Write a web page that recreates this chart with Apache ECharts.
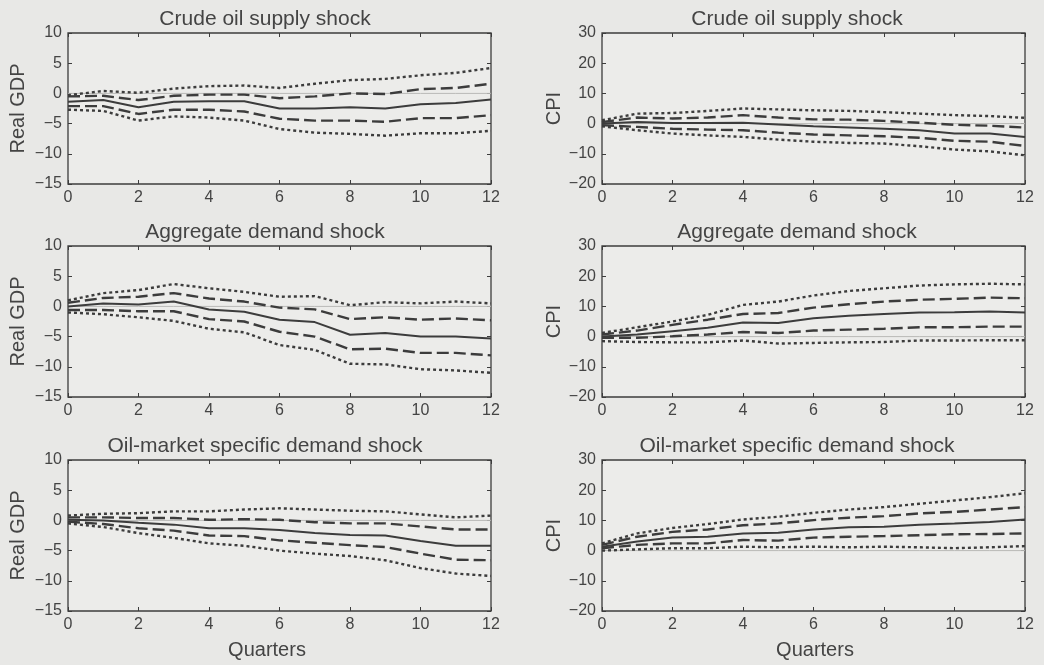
<!DOCTYPE html>
<html lang="en">
<head>
  <meta charset="UTF-8" />
  <title>Impulse responses</title>
  <script src="https://cdn.jsdelivr.net/npm/echarts@6/dist/echarts.min.js"></script>
  <style>
    body {
      margin: 0;
      background: #e8e8e6;
    }
    #chart {
      width: 1044px;
      height: 665px;
    }
  </style>
</head>
<body>
  <div id="chart"></div>

  <script>
    // quarters after the shock
    const quarters = [0, 1, 2, 3, 4, 5, 6, 7, 8, 9, 10, 11, 12];
    const panelTitles = ['Crude oil supply shock', 'Crude oil supply shock',
      'Aggregate demand shock', 'Aggregate demand shock',
      'Oil-market specific demand shock', 'Oil-market specific demand shock'];
    const gdpTicks = [-15, -10, -5, 0, 5, 10];
    const cpiTicks = [-20, -10, 0, 10, 20, 30];

    // crude oil supply shock -> real GDP
    const supplyGdpMid = [-1.4, -1.1, -2.3, -1.4, -1.3, -1.3, -2.5, -2.5, -2.3, -2.5, -1.8, -1.6, -1.0];
    const supplyGdpHi1 = [-0.5, -0.4, -1.1, -0.4, -0.2, -0.2, -0.8, -0.5, 0.0, -0.1, 0.7, 0.9, 1.6];
    const supplyGdpLo1 = [-2.1, -2.1, -3.4, -2.7, -2.7, -3.0, -4.2, -4.5, -4.5, -4.7, -4.1, -4.1, -3.6];
    const supplyGdpHi2 = [-0.3, 0.4, 0.1, 0.8, 1.2, 1.3, 0.9, 1.6, 2.2, 2.4, 3.0, 3.4, 4.2];
    const supplyGdpLo2 = [-2.7, -2.9, -4.5, -3.8, -4.0, -4.5, -5.9, -6.5, -6.7, -7.0, -6.6, -6.6, -6.2];

    // crude oil supply shock -> CPI
    const supplyCpiMid = [0.0, 0.5, 0.2, 0.2, 0.3, -0.3, -0.9, -1.3, -1.7, -2.2, -3.3, -3.3, -4.4];
    const supplyCpiHi1 = [0.5, 2.0, 1.7, 2.0, 2.8, 2.0, 1.4, 1.3, 0.9, 0.3, -0.4, -0.7, -1.3];
    const supplyCpiLo1 = [-0.5, -1.1, -1.7, -2.0, -2.2, -3.0, -3.6, -3.9, -4.2, -4.7, -5.7, -6.0, -7.4];
    const supplyCpiHi2 = [1.1, 3.3, 3.5, 4.2, 5.0, 4.7, 4.4, 4.2, 3.8, 3.3, 2.8, 2.5, 1.9];
    const supplyCpiLo2 = [-0.9, -2.2, -3.3, -3.9, -4.4, -5.3, -6.0, -6.4, -6.6, -7.5, -8.6, -9.2, -10.5];

    // aggregate demand shock -> real GDP
    const demandGdpMid = [0.0, 0.5, 0.3, 0.8, -0.5, -0.9, -2.2, -2.6, -4.7, -4.4, -5.0, -5.0, -5.3];
    const demandGdpHi1 = [0.6, 1.4, 1.6, 2.2, 1.3, 0.8, -0.2, -0.5, -2.1, -1.8, -2.2, -2.0, -2.3];
    const demandGdpLo1 = [-0.6, -0.6, -0.8, -0.8, -2.1, -2.5, -4.2, -5.0, -7.1, -7.0, -7.7, -7.7, -8.1];
    const demandGdpHi2 = [1.0, 2.2, 2.7, 3.7, 3.0, 2.4, 1.6, 1.7, 0.2, 0.7, 0.5, 0.8, 0.5];
    const demandGdpLo2 = [-1.0, -1.3, -1.8, -2.4, -3.7, -4.3, -6.4, -7.2, -9.5, -9.6, -10.4, -10.6, -11.0];

    // aggregate demand shock -> CPI
    const demandCpiMid = [0.0, 0.7, 1.8, 2.9, 4.7, 4.5, 6.1, 6.9, 7.5, 8.0, 8.1, 8.3, 8.0];
    const demandCpiHi1 = [0.7, 2.0, 3.9, 5.6, 7.5, 7.8, 9.6, 10.7, 11.6, 12.2, 12.5, 12.9, 12.7];
    const demandCpiLo1 = [-0.4, -0.4, 0.1, 0.7, 1.5, 1.2, 2.0, 2.3, 2.6, 3.1, 3.1, 3.3, 3.3];
    const demandCpiHi2 = [1.2, 3.1, 5.0, 7.2, 10.5, 11.6, 13.6, 15.1, 16.0, 16.9, 17.3, 17.5, 17.3];
    const demandCpiLo2 = [-1.5, -1.8, -1.9, -1.9, -1.3, -2.3, -2.1, -1.9, -1.8, -1.3, -1.3, -1.2, -1.2];

    // oil-market specific demand shock -> real GDP
    const oilGdpMid = [0.1, 0.0, -0.4, -0.7, -1.3, -1.3, -1.6, -2.1, -2.4, -2.5, -3.4, -4.2, -4.2];
    const oilGdpHi1 = [0.5, 0.5, 0.4, 0.4, 0.1, 0.2, 0.1, -0.3, -0.5, -0.5, -1.0, -1.5, -1.5];
    const oilGdpLo1 = [-0.2, -0.6, -1.3, -1.7, -2.5, -2.6, -3.3, -3.7, -4.1, -4.4, -5.5, -6.5, -6.6];
    const oilGdpHi2 = [0.8, 1.1, 1.2, 1.5, 1.5, 1.8, 2.0, 1.8, 1.6, 1.5, 1.0, 0.5, 0.8];
    const oilGdpLo2 = [-0.5, -1.1, -2.1, -2.9, -3.8, -4.2, -5.0, -5.5, -5.9, -6.6, -7.9, -8.8, -9.2];

    // oil-market specific demand shock -> CPI
    const oilCpiMid = [1.3, 3.0, 4.3, 4.6, 5.7, 5.9, 7.0, 7.7, 7.9, 8.6, 9.0, 9.5, 10.3];
    const oilCpiHi1 = [1.9, 4.6, 6.2, 7.0, 8.4, 9.0, 10.1, 10.9, 11.4, 12.3, 12.8, 13.6, 14.4];
    const oilCpiLo1 = [0.8, 1.9, 2.4, 2.4, 3.5, 3.3, 4.3, 4.6, 4.8, 5.1, 5.4, 5.5, 5.7];
    const oilCpiHi2 = [2.4, 5.7, 7.5, 8.8, 10.3, 11.2, 12.5, 13.6, 14.4, 15.5, 16.6, 17.7, 19.0];
    const oilCpiLo2 = [0.0, 0.4, 0.8, 0.8, 1.3, 1.1, 1.3, 1.1, 1.3, 1.1, 0.8, 1.1, 1.5];

    const panels = [
      [supplyGdpMid, supplyGdpHi1, supplyGdpLo1, supplyGdpHi2, supplyGdpLo2],
      [supplyCpiMid, supplyCpiHi1, supplyCpiLo1, supplyCpiHi2, supplyCpiLo2],
      [demandGdpMid, demandGdpHi1, demandGdpLo1, demandGdpHi2, demandGdpLo2],
      [demandCpiMid, demandCpiHi1, demandCpiLo1, demandCpiHi2, demandCpiLo2],
      [oilGdpMid, oilGdpHi1, oilGdpLo1, oilGdpHi2, oilGdpLo2],
      [oilCpiMid, oilCpiHi1, oilCpiLo1, oilCpiHi2, oilCpiLo2]
    ];

    const ink = '#3c3c3c';
    const textInk = '#444';
    const font = 'Liberation Sans, Arial, sans-serif';
    const lefts = [68, 602];
    const tops = [33, 246, 460];
    const titleCenters = [265, 797];
    const titleTops = [9, 222, 436];

    const minus = v => String(v).replace('-', '\u2212');

    const grids = [], xAxes = [], yAxes = [], series = [], titles = [];

    // solid = median, dashed = inner band, dotted = outer band
    const styles = [
      { type: 'solid', width: 2 },
      { type: [12, 5], width: 2.4 },
      { type: [12, 5], width: 2.4 },
      { type: [3, 3], width: 2.4 },
      { type: [3, 3], width: 2.4 }
    ];

    panels.forEach((lines, i) => {
      const col = i % 2, row = Math.floor(i / 2);
      const isGdp = col === 0;
      const ticks = isGdp ? gdpTicks : cpiTicks;
      grids.push({
        left: lefts[col], top: tops[row], width: 423, height: 151,
        show: true, borderColor: ink, borderWidth: 1.3, backgroundColor: '#ececea'
      });
      titles.push({
        text: panelTitles[i], left: titleCenters[col], top: titleTops[row], textAlign: 'center',
        padding: 0,
        textStyle: { fontFamily: font, fontSize: 21, fontWeight: 'normal', color: textInk }
      });

      const xBase = {
        type: 'value', gridIndex: i, min: 0, max: 12, interval: 2,
        splitLine: { show: false },
        axisLine: { show: false, onZero: false },
        axisTick: { show: true, inside: true, length: 4, lineStyle: { color: ink } }
      };
      xAxes.push(Object.assign({}, xBase, {
        position: 'bottom',
        axisLabel: { color: textInk, fontFamily: font, fontSize: 16, margin: 6 }
      }));
      xAxes.push(Object.assign({}, xBase, { position: 'top', axisLabel: { show: false } }));

      const yBase = {
        type: 'value', gridIndex: i, min: ticks[0], max: ticks[ticks.length - 1],
        interval: ticks[1] - ticks[0],
        splitLine: { show: false },
        axisLine: { show: false, onZero: false },
        axisTick: { show: true, inside: true, length: 4, lineStyle: { color: ink } }
      };
      yAxes.push(Object.assign({}, yBase, {
        position: 'left',
        name: isGdp ? 'Real GDP' : 'CPI',
        nameLocation: 'middle', nameGap: isGdp ? 40 : 33,
        nameTextStyle: { color: textInk, fontFamily: font, fontSize: 20 },
        axisLabel: { color: textInk, fontFamily: font, fontSize: 16, margin: 6, formatter: minus }
      }));
      yAxes.push(Object.assign({}, yBase, { position: 'right', axisLabel: { show: false } }));

      const xi = i * 2, yi = i * 2;
      series.push({
        type: 'line', xAxisIndex: xi, yAxisIndex: yi, symbol: 'none', silent: true,
        data: quarters.map(q => [q, 0]),
        lineStyle: { color: '#b9b9b7', width: 1 }, z: 1
      });
      lines.forEach((vals, k) => {
        series.push({
          type: 'line', xAxisIndex: xi, yAxisIndex: yi, symbol: 'none', silent: true,
          data: quarters.map((q, j) => [q, vals[j]]),
          lineStyle: Object.assign({ color: ink }, styles[k]), z: 3
        });
      });
    });

    [267, 815].forEach(cx => {
      titles.push({
        text: 'Quarters', left: cx, top: 640, textAlign: 'center', padding: 0,
        textStyle: { fontFamily: font, fontSize: 20, fontWeight: 'normal', color: textInk }
      });
    });

    const chart = echarts.init(document.getElementById('chart'));
    chart.setOption({
      backgroundColor: '#e8e8e6',
      animation: false,
      title: titles,
      grid: grids,
      xAxis: xAxes,
      yAxis: yAxes,
      series: series
    });
  </script>
</body>
</html>
